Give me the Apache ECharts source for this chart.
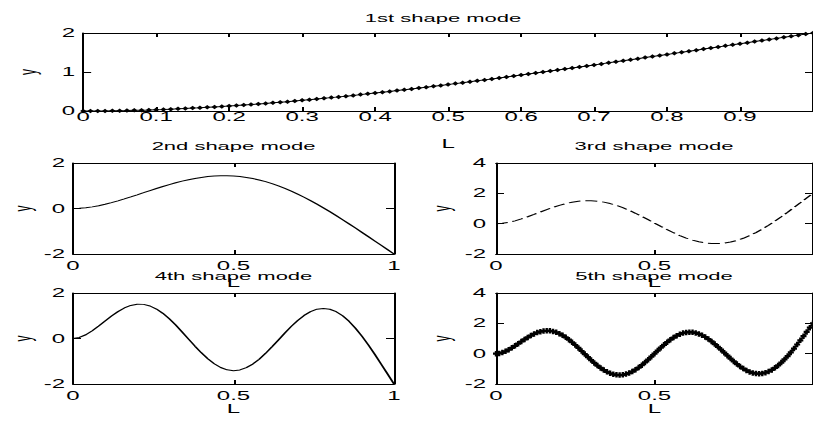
<!DOCTYPE html>
<html>
<head>
<meta charset="utf-8">
<script src="https://cdn.jsdelivr.net/npm/echarts@6/dist/echarts.min.js"></script>
<style>
html,body{margin:0;padding:0;background:#fff;overflow:hidden;width:813px;height:421px;}
#chart{width:406.5px;height:421px;transform:scaleX(2);transform-origin:0 0;}
</style>
</head>
<body>
<div id="chart"></div>
<script>
// ---- data ----
const titles = ['1st shape mode', '2nd shape mode', '3rd shape mode', '4th shape mode', '5th shape mode'];
const xAxisName = 'L';
const yAxisName = 'y';

// 1st mode, L = 0 .. 1 step 0.01
const mode1 = [
  0.000, 0.000, 0.001, 0.003, 0.006, 0.009, 0.012, 0.017, 0.022, 0.027,
  0.034, 0.040, 0.048, 0.056, 0.065, 0.074, 0.083, 0.094, 0.105, 0.116,
  0.128, 0.140, 0.153, 0.166, 0.180, 0.195, 0.209, 0.225, 0.240, 0.256,
  0.273, 0.290, 0.307, 0.325, 0.343, 0.362, 0.381, 0.400, 0.420, 0.440,
  0.460, 0.480, 0.501, 0.523, 0.544, 0.566, 0.588, 0.610, 0.633, 0.656,
  0.679, 0.702, 0.726, 0.750, 0.774, 0.798, 0.823, 0.847, 0.872, 0.897,
  0.922, 0.948, 0.973, 0.999, 1.025, 1.050, 1.076, 1.103, 1.129, 1.155,
  1.182, 1.208, 1.235, 1.262, 1.289, 1.315, 1.342, 1.370, 1.397, 1.424,
  1.451, 1.478, 1.506, 1.533, 1.560, 1.588, 1.615, 1.642, 1.670, 1.697,
  1.725, 1.752, 1.780, 1.807, 1.835, 1.862, 1.890, 1.917, 1.945, 1.973,
  2.000
];
// 2nd mode, L = 0 .. 1 step 0.02
const mode2 = [
  0.000, 0.009, 0.033, 0.072, 0.123, 0.185, 0.257, 0.336, 0.421, 0.510,
  0.602, 0.695, 0.789, 0.880, 0.968, 1.052, 1.131, 1.202, 1.266, 1.321,
  1.367, 1.402, 1.426, 1.439, 1.439, 1.427, 1.403, 1.366, 1.316, 1.254,
  1.179, 1.092, 0.994, 0.884, 0.764, 0.633, 0.495, 0.347, 0.192, 0.030,
  -0.139, -0.313, -0.492, -0.675, -0.860, -1.048, -1.237, -1.427, -1.618, -1.809,
  -2.000
];
// 3rd mode, L = 0 .. 1 step 0.02
const mode3 = [
  0.000, 0.023, 0.088, 0.187, 0.312, 0.456, 0.611, 0.770, 0.927, 1.075,
  1.209, 1.323, 1.414, 1.477, 1.511, 1.512, 1.482, 1.419, 1.325, 1.202,
  1.052, 0.878, 0.686, 0.478, 0.261, 0.039, -0.181, -0.396, -0.598, -0.784,
  -0.948, -1.086, -1.194, -1.270, -1.310, -1.315, -1.282, -1.212, -1.105, -0.964,
  -0.790, -0.586, -0.355, -0.102, 0.170, 0.457, 0.756, 1.062, 1.373, 1.687,
  2.000
];
// 4th mode, L = 0 .. 1 step 0.02
const mode4 = [
  0.000, 0.045, 0.165, 0.340, 0.548, 0.770, 0.987, 1.183, 1.342, 1.453,
  1.508, 1.500, 1.429, 1.296, 1.106, 0.868, 0.591, 0.288, -0.026, -0.337,
  -0.631, -0.893, -1.112, -1.276, -1.378, -1.414, -1.382, -1.283, -1.123, -0.910,
  -0.653, -0.366, -0.063, 0.242, 0.533, 0.795, 1.015, 1.182, 1.287, 1.323,
  1.286, 1.177, 0.998, 0.754, 0.453, 0.104, -0.281, -0.692, -1.123, -1.560,
  -2.000
];
// 5th mode, L = 0 .. 1 step 0.01
const mode5 = [
  0.000, 0.019, 0.072, 0.154, 0.260, 0.382, 0.517, 0.659, 0.802, 0.942,
  1.074, 1.195, 1.301, 1.388, 1.453, 1.495, 1.512, 1.503, 1.468, 1.406,
  1.319, 1.208, 1.076, 0.923, 0.754, 0.570, 0.377, 0.177, -0.025, -0.227,
  -0.423, -0.610, -0.784, -0.942, -1.081, -1.199, -1.292, -1.359, -1.398, -1.410,
  -1.393, -1.348, -1.277, -1.179, -1.058, -0.916, -0.756, -0.580, -0.393, -0.198,
  0.002, 0.201, 0.396, 0.584, 0.760, 0.921, 1.063, 1.185, 1.283, 1.355,
  1.401, 1.418, 1.408, 1.370, 1.304, 1.213, 1.098, 0.961, 0.806, 0.635,
  0.451, 0.260, 0.064, -0.133, -0.326, -0.512, -0.686, -0.846, -0.986, -1.105,
  -1.201, -1.270, -1.311, -1.322, -1.304, -1.255, -1.177, -1.070, -0.934, -0.773,
  -0.588, -0.382, -0.156, 0.085, 0.339, 0.604, 0.877, 1.154, 1.435, 1.717,
  2.000
];
const modes = [mode1, mode2, mode3, mode4, mode5];

// axis ranges / tick steps
const xMin = 0, xMax = 1;
const xSteps = [0.1, 0.5, 0.5, 0.5, 0.5];
const yMins = [0, -2, -2, -2, -2];
const yMaxs = [2, 2, 4, 2, 4];
const ySteps = [1, 2, 2, 2, 2];

// ---- layout (pre-stretch coordinates; page is stretched 2x horizontally like the reference) ----
const FONT = '"Liberation Sans", Arial, Helvetica, sans-serif';
const grids = [
  {left: 36.5, top: 33,  width: 370,   height: 78},
  {left: 36.5, top: 163, width: 160.5, height: 91},
  {left: 248,  top: 163, width: 160,   height: 91},
  {left: 36.5, top: 293, width: 160.5, height: 91},
  {left: 248,  top: 293, width: 160,   height: 91}
];
const titlePos = [[221.5, 13], [116.75, 140.5], [327, 140.5], [116.75, 270.5], [327, 270.5]];
const xLabelMargin = [0, 6, 6, 6, 6];
const xNameGap = [27, 23, 23, 16, 16];
const yNameGap = [19, 19, 21, 19, 21];
const yLabelMargin = [4, 4, 5, 4, 5];
const showMaxX = [false, true, false, true, false];

function pairs(arr) {
  const n = arr.length - 1;
  return arr.map((v, i) => [i / n, v]);
}

const black = '#000';
const xAxes = [], yAxes = [], series = [], titleOpts = [];
grids.forEach((g, i) => {
  titleOpts.push({
    text: titles[i], left: titlePos[i][0], top: titlePos[i][1], textAlign: 'center', padding: 0,
    textStyle: {fontSize: 11, fontWeight: 'normal', color: black, fontFamily: FONT}
  });
  const tick = {show: true, inside: true, length: 4, lineStyle: {color: black, width: 1}};
  xAxes.push({
    type: 'value', gridIndex: i, position: 'bottom', min: xMin, max: xMax, interval: xSteps[i],
    name: xAxisName, nameLocation: 'middle', nameGap: xNameGap[i],
    nameTextStyle: {fontSize: 12, color: black, fontFamily: FONT},
    axisLine: {show: true, onZero: false, lineStyle: {color: black, width: 1}},
    axisTick: tick, splitLine: {show: false},
    axisLabel: {show: true, margin: xLabelMargin[i], fontSize: 12, color: black, fontFamily: FONT,
      showMinLabel: true, showMaxLabel: showMaxX[i]}
  });
  xAxes.push({
    type: 'value', gridIndex: i, position: 'top', min: xMin, max: xMax, interval: xSteps[i],
    axisLine: {show: true, onZero: false, lineStyle: {color: black, width: 1}},
    axisTick: tick, splitLine: {show: false}, axisLabel: {show: false}
  });
  yAxes.push({
    type: 'value', gridIndex: i, position: 'left', min: yMins[i], max: yMaxs[i], interval: ySteps[i],
    name: yAxisName, nameLocation: 'middle', nameGap: yNameGap[i],
    nameTextStyle: {fontSize: 12, color: black, fontFamily: FONT},
    axisLine: {show: true, onZero: false, lineStyle: {color: black, width: 1}},
    axisTick: tick, splitLine: {show: false},
    axisLabel: {show: true, margin: yLabelMargin[i], fontSize: 12, color: black, fontFamily: FONT}
  });
  yAxes.push({
    type: 'value', gridIndex: i, position: 'right', min: yMins[i], max: yMaxs[i], interval: ySteps[i],
    axisLine: {show: true, onZero: false, lineStyle: {color: black, width: 1}},
    axisTick: tick, splitLine: {show: false}, axisLabel: {show: false}
  });
});

const plus = 'path://M3,0H7V3H10V7H7V10H3V7H0V3H3Z';
const styles = [
  {symbol: 'diamond', symbolSize: [3, 4.5], showSymbol: true, lineStyle: {width: 1, color: black}},
  {symbol: 'none', showSymbol: false, lineStyle: {width: 1, color: black}},
  {symbol: 'none', showSymbol: false, lineStyle: {width: 1, color: black, type: [6, 2.5]}},
  {symbol: 'none', showSymbol: false, lineStyle: {width: 1, color: black}},
  {symbol: plus, symbolSize: [3, 5.5], showSymbol: true, lineStyle: {width: 1, color: black}}
];
modes.forEach((m, i) => {
  series.push(Object.assign({
    type: 'line', name: titles[i], xAxisIndex: 2 * i, yAxisIndex: 2 * i,
    data: pairs(m), itemStyle: {color: black}, smooth: false, silent: true,
    emphasis: {disabled: true}
  }, styles[i]));
});

const chart = echarts.init(document.getElementById('chart'), null, {renderer: 'svg', width: 406.5, height: 421});
chart.setOption({
  animation: false,
  backgroundColor: '#fff',
  title: titleOpts,
  grid: grids.map(g => Object.assign({containLabel: false}, g)),
  xAxis: xAxes,
  yAxis: yAxes,
  series: series
});
</script>
</body>
</html>
